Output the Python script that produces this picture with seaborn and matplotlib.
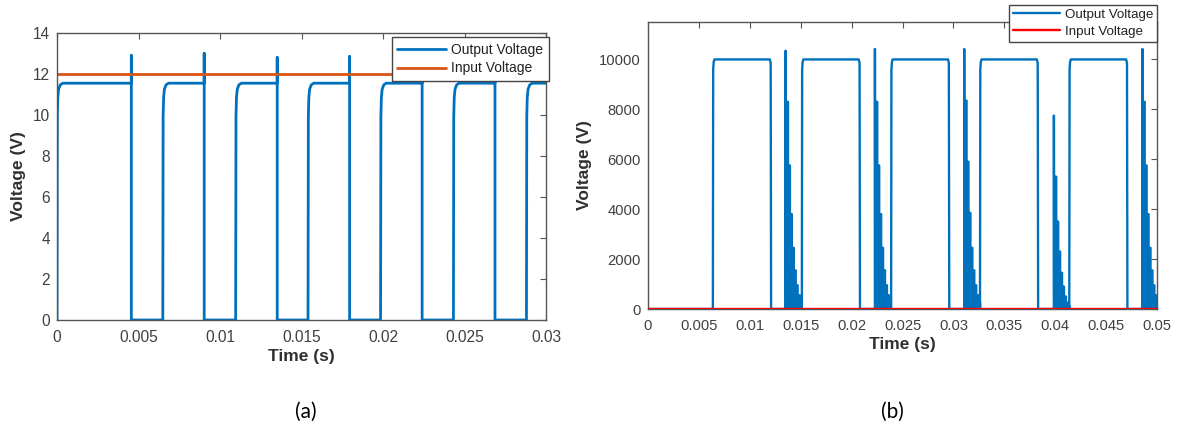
import numpy as np
import pandas as pd
import matplotlib
matplotlib.use("Agg")
import matplotlib.pyplot as plt
import seaborn as sns

# ---------------- panel (a): 12 V supply, switched output ----------------
a_time_end = 0.03
a_rise = [0.0, 0.00649, 0.01096, 0.01540, 0.01985, 0.02432, 0.02880]   # output turns on
a_fall = [0.00456, 0.00903, 0.01351, 0.01795, 0.02240, 0.02687]        # output turns off
a_spike = [12.9, 13.0, 12.8, 12.85, 12.9, 12.9]                        # overshoot at turn-off
a_level = 11.55
a_input = 12.0
a_rise_dt = [0.0, 0.00002, 0.00005, 0.0001, 0.0002, 0.00035]
a_rise_frac = [0.0, 0.86, 0.94, 0.975, 0.993, 1.0]
a_yticks = [0, 2, 4, 6, 8, 10, 12, 14]
a_xticks = [0, 0.005, 0.01, 0.015, 0.02, 0.025, 0.03]
a_xlabels = ["0", "0.005", "0.01", "0.015", "0.02", "0.025", "0.03"]

# ---------------- panel (b): high-voltage output with ringing ----------------
b_time_end = 0.05
b_rise = [0.00637, 0.01511, 0.02388, 0.03261, 0.04138]
b_fall = [0.01209, 0.02082, 0.02959, 0.03832, 0.04709]
b_level = 10000
b_input = 12.0
b_burst_start = [0.01352, 0.02229, 0.03106, 0.03987, 0.04856]
b_burst_peak = [10350, 10420, 10420, 7750, 10420]
b_burst_env = [
    [8300, 5750, 3800, 2450, 1550, 950, 550, 250],
    [8300, 5750, 3800, 2450, 1550, 950, 550, 250],
    [8350, 5900, 3850, 2450, 1550, 950, 550, 250],
    [5300, 3500, 2300, 1450, 900, 500, 250, 100],
    [8300, 5750, 3800, 2450, 1550, 950, 550, 250],
]
b_burst_lead = 0.00004
b_burst_step = 0.00019
b_rise_dt = [0.0, 0.00003, 0.00008, 0.00015]
b_rise_frac = [0.0, 0.96, 0.99, 1.0]
b_fall_dt = [-0.00012, -0.00004, 0.0]
b_fall_frac = [1.0, 0.985, 0.0]
b_yticks = [0, 2000, 4000, 6000, 8000, 10000]
b_xticks = [0, 0.005, 0.01, 0.015, 0.02, 0.025, 0.03, 0.035, 0.04, 0.045, 0.05]
b_xlabels = ["0", "0.005", "0.01", "0.015", "0.02", "0.025", "0.03",
             "0.035", "0.04", "0.045", "0.05"]

OUT, INP = "Output Voltage", "Input Voltage"


def trace_a():
    t, v = [], []
    for i, tr in enumerate(a_rise):
        for dt, fr in zip(a_rise_dt, a_rise_frac):
            t.append(tr + dt)
            v.append(a_level * fr)
        if i < len(a_fall):
            tf = a_fall[i]
            t += [tf, tf, tf]
            v += [a_level, a_spike[i], 0.0]
        else:
            t.append(a_time_end)
            v.append(a_level)
    return t, v


def trace_b():
    t, v = [0.0], [0.0]
    envs = []
    for i in range(len(b_rise)):
        tr, tf, tb = b_rise[i], b_fall[i], b_burst_start[i]
        for dt, fr in zip(b_rise_dt, b_rise_frac):
            t.append(tr + dt)
            v.append(b_level * fr)
        for dt, fr in zip(b_fall_dt, b_fall_frac):
            t.append(tf + dt)
            v.append(b_level * fr)
        t += [tb, tb, tb + 0.00002]
        v += [0.0, b_burst_peak[i], 0.0]
        edges = [tb + b_burst_lead + k * b_burst_step for k in range(len(b_burst_env[i]) + 1)]
        for k, lvl in enumerate(b_burst_env[i]):
            t += [edges[k], edges[k], edges[k + 1], edges[k + 1]]
            v += [0.0, lvl, lvl, 0.0]
        envs.append((edges, list(b_burst_env[i]) + [0.0]))
    return t, v, envs


ta, va = trace_a()
df_a = pd.concat([
    pd.DataFrame({"Time": ta, "Voltage": va, "Signal": OUT}),
    pd.DataFrame({"Time": [0.0, a_time_end], "Voltage": [a_input, a_input], "Signal": INP}),
], ignore_index=True)

tb_, vb_, envs = trace_b()
df_b = pd.concat([
    pd.DataFrame({"Time": tb_, "Voltage": vb_, "Signal": OUT}),
    pd.DataFrame({"Time": [0.0, b_time_end], "Voltage": [b_input, b_input], "Signal": INP}),
], ignore_index=True)

sns.set_theme(style="white")
plt.rcParams["font.family"] = ["Liberation Sans", "DejaVu Sans"]

BLUE = "#0072BD"
ORANGE = "#D95319"
RED = "#FF0000"
TXT = "#404040"
SPINE = "#555555"

fig = plt.figure(figsize=(11.78, 4.32), dpi=100)
ax_a = fig.add_axes([0.0484, 0.2593, 0.4151, 0.6644])
ax_b = fig.add_axes([0.5501, 0.2847, 0.4321, 0.6644])

sns.lineplot(data=df_a, x="Time", y="Voltage", hue="Signal", hue_order=[OUT, INP],
             palette={OUT: BLUE, INP: ORANGE}, estimator=None, sort=False,
             linewidth=2.0, ax=ax_a)
sns.lineplot(data=df_b, x="Time", y="Voltage", hue="Signal", hue_order=[OUT, INP],
             palette={OUT: BLUE, INP: RED}, estimator=None, sort=False,
             linewidth=1.7, ax=ax_b)
for edges, levels in envs:
    ax_b.fill_between(edges, 0, levels, step="post", color=BLUE, linewidth=0, zorder=1.5)
# keep the supply line on top of the output trace
for ln in ax_b.get_lines():
    if tuple(np.round(matplotlib.colors.to_rgb(ln.get_color()), 3)) == (1.0, 0.0, 0.0):
        ln.set_zorder(3)

ax_a.set_xlim(0, a_time_end)
ax_a.set_ylim(0, 14)
ax_a.set_xticks(a_xticks, a_xlabels)
ax_a.set_yticks(a_yticks)
ax_b.set_xlim(0, b_time_end)
ax_b.set_ylim(0, 11500)
ax_b.set_xticks(b_xticks, b_xlabels)
ax_b.set_yticks(b_yticks)

for ax, fs in ((ax_a, 11.2), (ax_b, 10.6)):
    ax.tick_params(direction="in", top=True, right=True, length=4, width=0.8,
                   colors=SPINE, labelcolor=TXT, labelsize=fs)
    ax.tick_params(axis="x", pad=7)
    ax.tick_params(axis="y", pad=5)
    for s in ax.spines.values():
        s.set_color(SPINE)
        s.set_linewidth(1.0)
    ax.set_xlabel("Time (s)", fontsize=12.5, fontweight="bold", color="#303030", labelpad=3)
    ax.set_ylabel("Voltage (V)", fontsize=12.5, fontweight="bold", color="#303030", labelpad=5)

leg_kw = dict(loc="upper right", frameon=True, fancybox=False, framealpha=1.0,
              edgecolor="#444444", borderaxespad=0, handlelength=3.5,
              handletextpad=0.4, labelspacing=0.35)
h, l = ax_a.get_legend_handles_labels()
lg = ax_a.legend(h, l, bbox_to_anchor=(1.006, 0.986), fontsize=10, borderpad=0.4, **leg_kw)
lg.set_zorder(10)
for t in lg.get_texts():
    t.set_color("#222222")
h, l = ax_b.get_legend_handles_labels()
lg = ax_b.legend(h, l, bbox_to_anchor=(1.0, 1.059), fontsize=9.6, borderpad=0.28, **leg_kw)
lg.set_zorder(10)
for t in lg.get_texts():
    t.set_color("#222222")

fig.text(306 / 1178, 1 - 412 / 432, "(a)", ha="center", va="center",
         fontsize=15, family=["Lato", "DejaVu Sans"], color="black")
fig.text(892 / 1178, 1 - 412 / 432, "(b)", ha="center", va="center",
         fontsize=15, family=["Lato", "DejaVu Sans"], color="black")

fig.savefig("out.png", dpi=100, facecolor="white")
